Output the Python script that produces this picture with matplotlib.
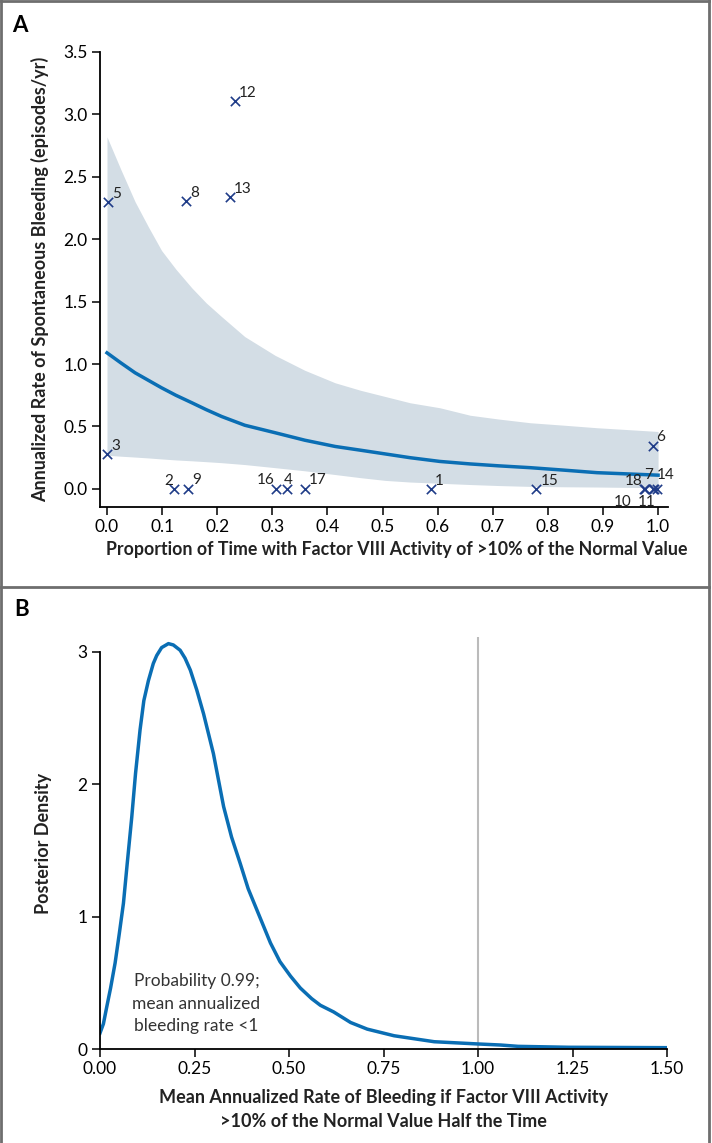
import matplotlib
matplotlib.use("Agg")
import matplotlib.pyplot as plt
from matplotlib.lines import Line2D

plt.rcParams['font.family'] = ['Lato', 'DejaVu Sans']

# Panel A: individual patients
patient_ids = ['1', '2', '3', '4', '5', '6', '7', '8', '9', '10', '11', '12', '13', '14', '15', '16', '17', '18']
prop_time = [0.588, 0.122, 0.0, 0.327, 0.002, 0.991, 0.990, 0.143, 0.147, 0.976, 0.992,
             0.232, 0.223, 0.998, 0.779, 0.307, 0.359, 0.975]
bleed_rate = [0.0, 0.0, 0.28, 0.0, 2.30, 0.34, 0.0, 2.31, 0.0, 0.0, 0.0,
              3.11, 2.34, 0.0, 0.0, 0.0, 0.0, 0.0]
# label offsets in pixels (dx, dy)
label_offsets = {
    '1': (4, 4), '2': (-10, 4), '3': (4, 4), '4': (-3, 5), '5': (4, 4), '6': (3, 5),
    '7': (-8, 10), '8': (4, 4), '9': (4, 5), '10': (-31, -17), '11': (-16, -17),
    '12': (4, 4), '13': (4, 4), '14': (0, 10), '15': (4, 4), '16': (-19, 5),
    '17': (4, 5), '18': (-20, 4),
}

# Fitted curve and credible band
fit_x = [0.0, 0.025, 0.051, 0.075, 0.099, 0.125, 0.154, 0.18, 0.208, 0.25, 0.305,
         0.359, 0.414, 0.46, 0.505, 0.55, 0.604, 0.659, 0.71, 0.768, 0.83, 0.889, 0.945, 1.0]
fit_mean = [1.09, 1.01, 0.93, 0.87, 0.81, 0.75, 0.69, 0.635, 0.58, 0.51, 0.45,
            0.39, 0.34, 0.31, 0.28, 0.25, 0.22, 0.20, 0.185, 0.17, 0.15, 0.13, 0.12, 0.11]
fit_upper = [2.82, 2.56, 2.30, 2.10, 1.91, 1.76, 1.61, 1.49, 1.38, 1.22, 1.07,
             0.95, 0.85, 0.79, 0.74, 0.69, 0.65, 0.59, 0.56, 0.53, 0.51, 0.49, 0.475, 0.46]
fit_lower = [0.27, 0.262, 0.255, 0.248, 0.24, 0.232, 0.225, 0.218, 0.21, 0.195, 0.17,
             0.145, 0.115, 0.09, 0.068, 0.055, 0.045, 0.035, 0.027, 0.02, 0.017, 0.015, 0.012, 0.01]

# Panel B: posterior density
post_x = [0.0, 0.009, 0.018, 0.028, 0.040, 0.051, 0.062, 0.072, 0.084, 0.094, 0.106,
          0.116, 0.128, 0.141, 0.150, 0.163, 0.181, 0.194, 0.212, 0.225, 0.239, 0.256,
          0.274, 0.300, 0.327, 0.348, 0.371, 0.392, 0.415, 0.451, 0.476, 0.504, 0.53,
          0.56, 0.583, 0.618, 0.663, 0.707, 0.778, 0.884, 1.0, 1.06, 1.106, 1.24, 1.5]
post_density = [0.12, 0.19, 0.32, 0.46, 0.65, 0.87, 1.10, 1.40, 1.75, 2.08, 2.41,
                2.63, 2.78, 2.91, 2.97, 3.03, 3.06, 3.05, 3.01, 2.95, 2.86, 2.71,
                2.53, 2.23, 1.83, 1.60, 1.40, 1.21, 1.05, 0.80, 0.66, 0.55, 0.46,
                0.38, 0.33, 0.28, 0.20, 0.15, 0.10, 0.055, 0.038, 0.03, 0.02, 0.013, 0.01]

W, H = 712, 1143
fig = plt.figure(figsize=(W / 100, H / 100), dpi=100)

navy = '#1f3c88'
blue = '#0a6eb4'
band = '#d3dde5'
gray_box = '#6e6e6e'

def box(px_l, py_top, px_r, py_bot):
    return [px_l / W, 1 - py_bot / H, (px_r - px_l) / W, (py_bot - py_top) / H]

def style_axes(ax):
    for s in ['top', 'right']:
        ax.spines[s].set_visible(False)
    for s in ['left', 'bottom']:
        ax.spines[s].set_linewidth(1.3)
    ax.tick_params(direction='out', length=6, width=1.1, labelsize=12.5, pad=3)

# ---- Panel A ----
ax1 = fig.add_axes(box(100, 52, 668, 507))
ax1.fill_between(fit_x, fit_lower, fit_upper, color=band, lw=0, zorder=1)
ax1.plot(fit_x, fit_mean, color=blue, lw=2.5, zorder=2, solid_joinstyle='round')
ax1.scatter(prop_time, bleed_rate, marker='x', color=navy, s=45, linewidths=1.2, zorder=3)
for pid, xv, yv in zip(patient_ids, prop_time, bleed_rate):
    dx, dy = label_offsets[pid]
    ax1.annotate(pid, (xv, yv), xytext=(dx, dy), textcoords='offset pixels',
                 fontsize=11, color='#222222', zorder=4)
ax1.set_xlim(-0.0127, 1.018)
ax1.set_ylim(-0.145, 3.5)
ax1.set_xticks([i / 10 for i in range(11)])
ax1.set_xticklabels([f'{i / 10:.1f}' for i in range(11)])
ax1.set_yticks([i / 2 for i in range(8)])
ax1.set_yticklabels([f'{i / 2:.1f}' for i in range(8)])
style_axes(ax1)
ax1.set_xlabel('Proportion of Time with Factor VIII Activity of >10% of the Normal Value',
               fontsize=12.8, fontweight='bold', color='#222222', labelpad=8)
ax1.xaxis.set_label_coords(0.522, -0.075)
ax1.set_ylabel('Annualized Rate of Spontaneous Bleeding (episodes/yr)',
               fontsize=13, fontweight='bold', color='#222222', labelpad=10)

# ---- Panel B ----
ax2 = fig.add_axes(box(100, 637, 667, 1049))
ax2.axvline(1.0, color='#bbbbbb', lw=1.5, zorder=1)
ax2.plot(post_x, post_density, color=blue, lw=2.5, zorder=2, solid_joinstyle='round')
ax2.set_xlim(0, 1.5)
ax2.set_ylim(0, 3.11)
ax2.spines['left'].set_bounds(0, 3)
ax2.set_xticks([0, 0.25, 0.5, 0.75, 1.0, 1.25, 1.5])
ax2.set_xticklabels(['0.00', '0.25', '0.50', '0.75', '1.00', '1.25', '1.50'])
ax2.set_yticks([0, 1, 2, 3])
style_axes(ax2)
ax2.set_xlabel('Mean Annualized Rate of Bleeding if Factor VIII Activity\n>10% of the Normal Value Half the Time',
               fontsize=13, fontweight='bold', color='#222222', labelpad=8, linespacing=1.5)
ax2.set_ylabel('Posterior Density', fontsize=13, fontweight='bold', color='#222222', labelpad=18)
ax2.text(0.255, 0.34, 'Probability 0.99;\nmean annualized\nbleeding rate <1',
         ha='center', va='center', fontsize=12.5, color='#333333', linespacing=1.5)

# panel letters and frame
fig.text(12 / W, 1 - 25 / H, 'A', fontsize=16, fontweight='bold', va='center')
fig.text(14 / W, 1 - 610 / H, 'B', fontsize=16, fontweight='bold', va='center')
for xs, ys in [([1, 709], [1, 1]), ([1, 709], [587, 587]), ([1, 1], [0, H]), ([709, 709], [0, H])]:
    fig.add_artist(Line2D([x / W for x in xs], [1 - y / H for y in ys],
                          color=gray_box, lw=2, transform=fig.transFigure))

fig.savefig('out.png', dpi=100)
